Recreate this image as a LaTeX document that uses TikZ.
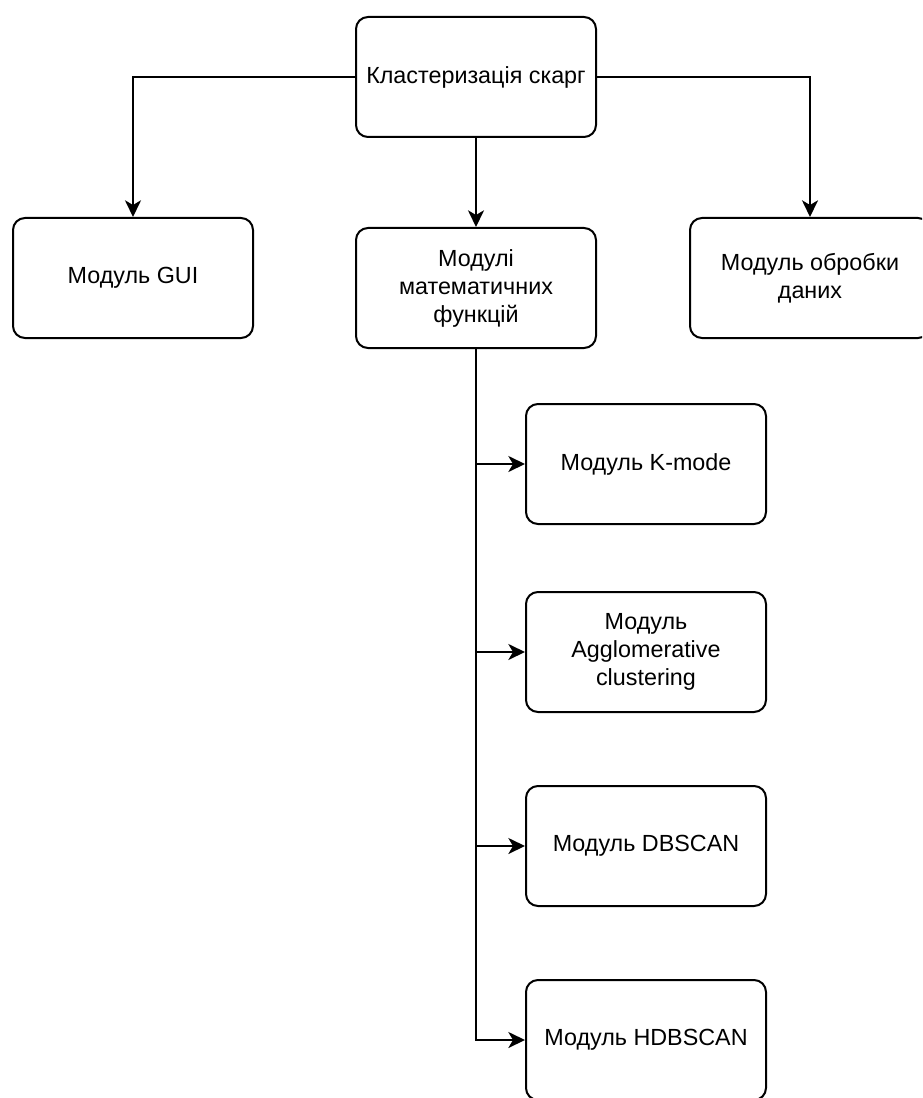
\documentclass[tikz,border=0pt]{standalone}
\usepackage{fontspec}
\setmainfont{Liberation Sans}
\usetikzlibrary{arrows.meta}
\begin{document}
\begin{tikzpicture}[x=0.75pt,y=-0.75pt,
  module/.style={draw=black, line width=1.5pt, rounded corners=9pt, fill=white,
    minimum width=180pt, minimum height=90pt, align=center,
    font=\fontsize{17.5}{21}\selectfont},
  link/.style={draw=black, line width=1.5pt,
    -{Stealth[length=12.5pt,width=12pt,inset=3.5pt]}}]
\useasboundingbox (0,0) rectangle (922,1098);
\clip (0,0) rectangle (922,1098);
\fill[white] (0,0) rectangle (922,1098);

% top level
\node[module] (root) at (476,77) {Кластеризація скарг};

% second level
\node[module] (gui)  at (133,278) {Модуль GUI};
\node[module] (math) at (476,288) {Модулі\\математичних\\функцій};
\node[module] (data) at (810,278) {Модуль обробки\\даних};

% clustering modules
\node[module] (kmode) at (646,464)  {Модуль K-mode};
\node[module] (agg)   at (646,652)  {Модуль\\Agglomerative\\clustering};
\node[module] (db)    at (646,846)  {Модуль DBSCAN};
\node[module] (hdb)   at (646,1040) {Модуль HDBSCAN};

% branches from the root
\draw[link] (root.west) -| (gui.north);
\draw[link] (root.east) -| (data.north);
\draw[link] (root.south) -- (math.north);

% trunk under the math module
\coordinate (tk) at (math.south |- kmode.west);
\coordinate (ta) at (math.south |- agg.west);
\coordinate (td) at (math.south |- db.west);
\draw[link] (math.south) |- (hdb.west);
\draw[link] (tk) -- (kmode.west);
\draw[link] (ta) -- (agg.west);
\draw[link] (td) -- (db.west);
\end{tikzpicture}
\end{document}
